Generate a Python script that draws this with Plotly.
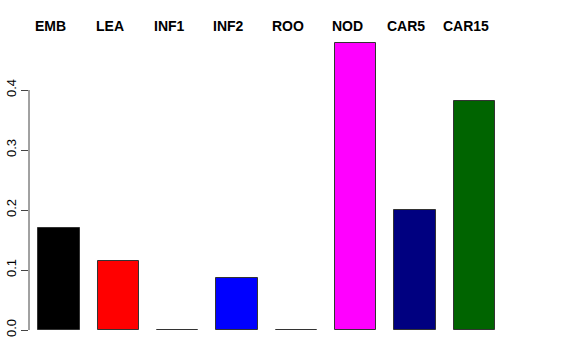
import plotly.graph_objects as go

categories = ["EMB", "LEA", "INF1", "INF2", "ROO", "NOD", "CAR5", "CAR15"]
values = [0.170, 0.115, 0.0, 0.086, 0.0, 0.479, 0.200, 0.382]
colors = ["#000000", "#FF0000", "#2E4A2E", "#0000FF", "#4A2E3A", "#FF00FF", "#000080", "#006400"]
tick_vals = [0.0, 0.1, 0.2, 0.3, 0.4]

xs = list(range(len(categories)))
bar_w = 0.7

fig = go.Figure()
fig.add_trace(go.Bar(
    x=xs, y=values, width=bar_w,
    marker=dict(color=colors, line=dict(color="#333333", width=1)),
    showlegend=False, hoverinfo="skip",
))

for x, c in zip(xs, categories):
    fig.add_annotation(
        x=x - 0.145, y=1, xref="x", yref="paper", yanchor="bottom",
        xanchor="center", text="<b>%s</b>" % c, showarrow=False,
        font=dict(family="Liberation Sans, Arial, sans-serif", size=14, color="black"),
        yshift=-6,
    )

# y axis line spanning tick range only (R style)
fig.add_shape(type="line", xref="paper", yref="y", x0=0, x1=0,
              y0=tick_vals[0], y1=tick_vals[-1], line=dict(color="#444444", width=1))

fig.update_layout(
    width=576, height=360,
    margin=dict(l=29, r=72, t=30, b=30),
    paper_bgcolor="white", plot_bgcolor="white",
    bargap=0,
    xaxis=dict(range=[-0.505, 7.5], showticklabels=False, showgrid=False,
               zeroline=False, showline=False, ticks="", automargin=False),
    yaxis=dict(range=[0, 0.5], tickvals=tick_vals, tickformat=".1f",
               tickangle=-90, ticks="outside", ticklen=7, tickcolor="#444444",
               showgrid=False, zeroline=False, showline=False, automargin=False,
               tickfont=dict(family="Liberation Sans, Arial, sans-serif", size=13, color="black")),
)

fig.write_html("out.html", config={"displayModeBar": False},
               post_script="document.body.style.margin='0px';")
